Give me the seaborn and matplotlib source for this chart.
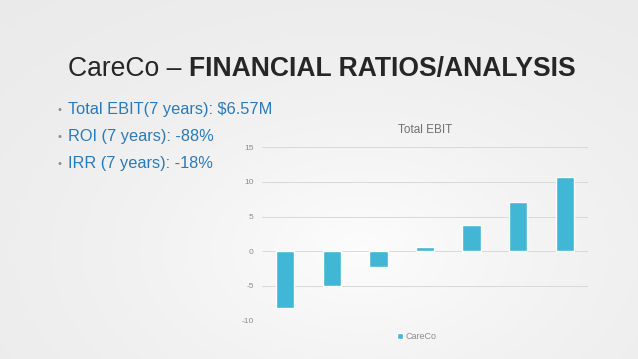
import matplotlib
matplotlib.use("Agg")
import matplotlib.pyplot as plt
import numpy as np
import pandas as pd
import seaborn as sns

years = ["Y1", "Y2", "Y3", "Y4", "Y5", "Y6", "Y7"]
ebit = [-8.2, -5.1, -2.3, 0.6, 3.8, 7.1, 10.67]
y_ticks = [-10, -5, 0, 5, 10, 15]
bullets = [
    "Total EBIT(7 years): $6.57M",
    "ROI (7 years): -88%",
    "IRR (7 years): -18%",
]

sns.set_theme(style="white")
plt.rcParams["font.family"] = ["Liberation Sans", "DejaVu Sans"]

W, H = 638, 359
fig = plt.figure(figsize=(W / 100, H / 100), dpi=100)

# slide background: soft radial gradient, light centre, grey edges
bg = fig.add_axes([0, 0, 1, 1])
yy, xx = np.mgrid[0:H, 0:W]
dist = np.sqrt(((xx - 360) / 430) ** 2 + ((yy - 250) / 270) ** 2)
shade = 0.99 - 0.08 * np.tanh(dist * 1.1)
rgb = np.dstack([shade, shade, shade])
bg.imshow(rgb, aspect="auto", extent=[0, W, H, 0], interpolation="bilinear")
bg.set_xlim(0, W)
bg.set_ylim(H, 0)
bg.axis("off")

# heading: normal part, then bold part right after it
head = bg.text(68, 76, "CareCo – ", fontsize=19.1, color="#262626", va="baseline")
renderer = fig.canvas.get_renderer()
ext = head.get_window_extent(renderer)
bg.text(ext.x1, 76, "FINANCIAL RATIOS/ANALYSIS", fontsize=19.1, color="#262626",
        fontweight="bold", va="baseline")

for i, line in enumerate(bullets):
    y = 114 + i * 27
    bg.text(57, y - 1, "•", fontsize=8, color="#8c8c8c", va="baseline")
    bg.text(68, y, line, fontsize=11.8, color="#2a7ab8", va="baseline")

# chart
df = pd.DataFrame({"year": years, "ebit": ebit})
ax = fig.add_axes([262 / W, 1 - 320.3 / H, (588 - 262) / W, (320.3 - 147.3) / H])
ax.patch.set_alpha(0)
sns.barplot(data=df, x="year", y="ebit", color="#41b7d5", width=0.39,
            saturation=1, ax=ax, label="CareCo", zorder=3)
ax.set_ylim(-10, 15)
ax.set_yticks(y_ticks)
ax.set_yticklabels([str(t) for t in y_ticks], fontsize=6, color="#8c8c8c")
ax.set_xticks([])
ax.set_xlabel("")
ax.set_ylabel("")
ax.grid(axis="y", color="#d9d9d9", linewidth=0.7, zorder=0)
ax.tick_params(axis="y", length=0, pad=6)
for s in ax.spines.values():
    s.set_visible(False)
ax.set_title("Total EBIT", fontsize=8.5, color="#707070", pad=10)
ax.legend(loc="upper center", bbox_to_anchor=(0.475, -0.02), frameon=False,
          fontsize=6.5, handlelength=0.6, handleheight=0.6, handletextpad=0.3,
          labelcolor="#8c8c8c")

fig.savefig("out.png", dpi=100)
